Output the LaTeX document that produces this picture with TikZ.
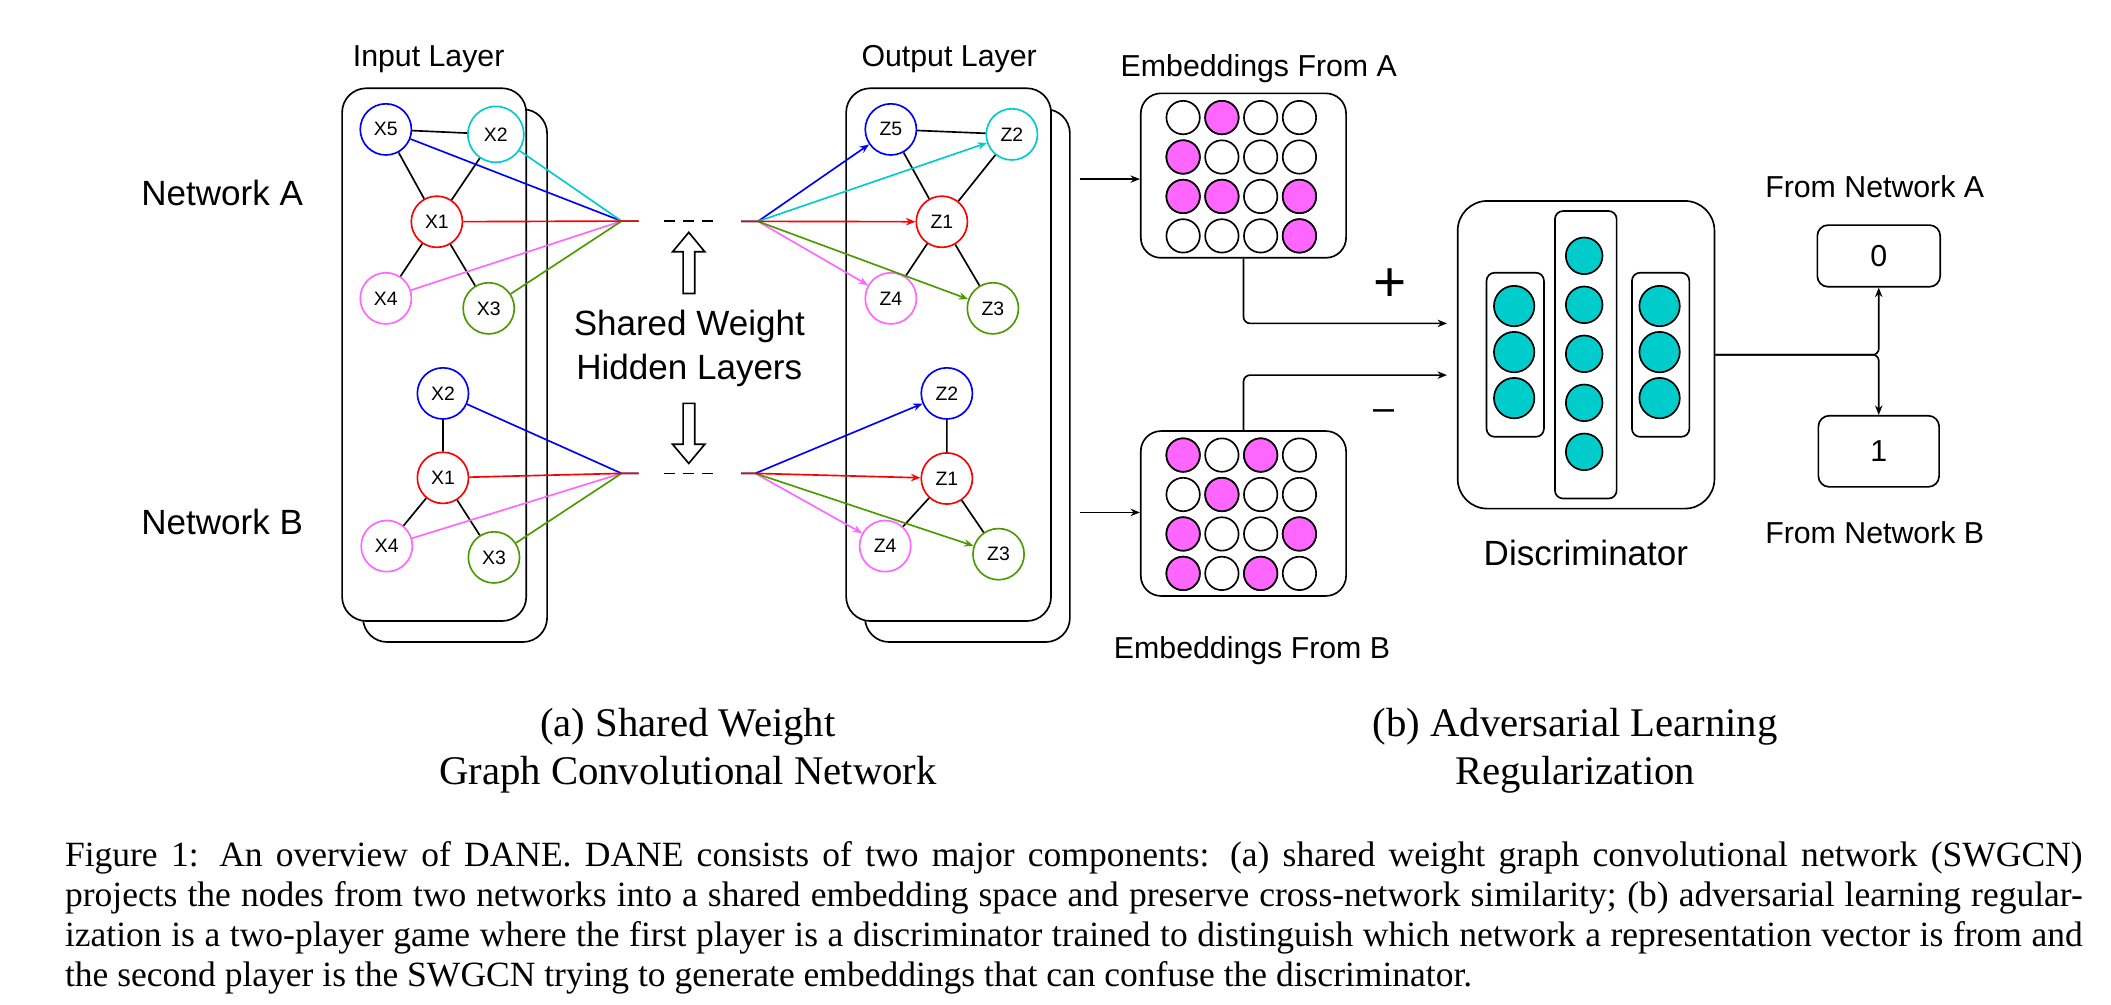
\documentclass[tikz,border=0pt]{standalone}
\usepackage{fontspec}
\setmainfont{Liberation Serif}
\setsansfont{Liberation Sans}
\usetikzlibrary{arrows.meta}

\definecolor{nblue}{HTML}{0000FF}
\definecolor{ncyan}{HTML}{00CCCC}
\definecolor{nred}{HTML}{FF0000}
\definecolor{nviolet}{HTML}{FF66FF}
\definecolor{ngreen}{HTML}{4D9900}
\definecolor{epink}{HTML}{FF66FF}
\definecolor{dteal}{HTML}{00CCCC}

\begin{document}
\begin{tikzpicture}[x=0.01cm,y=-0.01cm,line width=0.35pt,font=\sffamily,
    gnode/.style={circle,draw,fill=white,minimum size=3.8mm,inner sep=0pt,
      font=\sffamily\fontsize{4.1}{5}\selectfont},
    layer/.style={draw,fill=white,rounded corners=1.8mm,minimum width=1.367cm,minimum height=3.955cm},
    roundbox/.style={draw,fill=white,rounded corners=#1,inner sep=0pt},
    lbl/.style={font=\sffamily\fontsize{6.4}{7.5}\selectfont},
    big/.style={font=\sffamily\fontsize{7.4}{9.2}\selectfont},
    tip/.style={-{Stealth[length=0.7mm,width=0.55mm]}}]
  \useasboundingbox (0,0) rectangle (1568,745.8);

  % input and output layers (two stacked sheets)
  \node[layer] (inback) at (338,279) {};
  \node[layer] (infront) at (322.5,263.4) {};
  \node[layer,minimum width=1.521cm] (outback) at (718.6,279) {};
  \node[layer,minimum width=1.521cm] (outfront) at (704.6,263.4) {};
  \node[lbl] (inlbl) at (318.4,44.1) {Input Layer};
  \node[lbl] (outlbl) at (705,44) {Output Layer};
  \node[big] (neta) at (165,143.6) {Network A};
  \node[big] (netb) at (165,387.6) {Network B};

  % network A, input side
  \node[gnode,draw=nblue] (xa5) at (286.6,96.1) {X5};
  \node[gnode,draw=ncyan,minimum size=4.15mm] (xa2) at (368.3,99.8) {X2};
  \node[gnode,draw=nred] (xa1) at (324.5,164.7) {X1};
  \node[gnode,draw=nviolet] (xa4) at (286.6,221.6) {X4};
  \node[gnode,draw=ngreen] (xa3) at (363,229) {X3};
  \draw (xa5) -- (xa2) (xa5) -- (xa1) (xa2) -- (xa1) (xa1) -- (xa4) (xa1) -- (xa3);
  % network B, input side
  \node[gnode,draw=nblue] (xb2) at (329,292.2) {X2};
  \node[gnode,draw=nred] (xb1) at (329,354.9) {X1};
  \node[gnode,draw=nviolet] (xb4) at (287.3,405.6) {X4};
  \node[gnode,draw=ngreen] (xb3) at (366.9,414) {X3};
  \draw (xb2) -- (xb1) (xb1) -- (xb4) (xb1) -- (xb3);

  % network A, output side
  \node[gnode,draw=nblue] (za5) at (661.7,96.1) {Z5};
  \node[gnode,draw=ncyan] (za2) at (751.6,99.8) {Z2};
  \node[gnode,draw=nred] (za1) at (699.6,164.7) {Z1};
  \node[gnode,draw=nviolet] (za4) at (661.7,221.6) {Z4};
  \node[gnode,draw=ngreen] (za3) at (737.5,229) {Z3};
  \draw (za5) -- (za2) (za5) -- (za1) (za2) -- (za1) (za1) -- (za4) (za1) -- (za3);
  % network B, output side
  \node[gnode,draw=nblue] (zb2) at (703.3,292.2) {Z2};
  \node[gnode,draw=nred] (zb1) at (703.3,355.4) {Z1};
  \node[gnode,draw=nviolet] (zb4) at (657.5,405.6) {Z4};
  \node[gnode,draw=ngreen] (zb3) at (741.7,411.6) {Z3};
  \draw (zb2) -- (zb1) (zb1) -- (zb4) (zb1) -- (zb3);

  % shared weight hidden layers
  \coordinate (ca) at (461.7,164.2); \coordinate (ea) at (474.4,164.2);
  \coordinate (sa) at (550.5,164.4); \coordinate (ta) at (563,164.4);
  \coordinate (cb) at (461.7,351.6); \coordinate (eb) at (474.4,351.6);
  \coordinate (sb) at (550.5,351.6); \coordinate (tb) at (561,351.6);
  \foreach \n/\c in {xa5/nblue,xa2/ncyan,xa4/nviolet,xa3/ngreen,xa1/nred}
      \draw[color=\c] (\n) -- (ca) -- (ea);
  \foreach \n/\c in {xb2/nblue,xb4/nviolet,xb3/ngreen,xb1/nred}
      \draw[color=\c] (\n) -- (cb) -- (eb);
  \foreach \n/\c in {za5/nblue,za2/ncyan,za4/nviolet,za3/ngreen,za1/nred}
      \draw[tip,color=\c] (sa) -- (ta) -- (\n);
  \foreach \n/\c in {zb2/nblue,zb4/nviolet,zb3/ngreen,zb1/nred}
      \draw[tip,color=\c] (sb) -- (tb) -- (\n);
  \draw[dash pattern=on 0.78mm off 0.62mm] (493.5,164.2) -- (529.3,164.2);
  \draw[dash pattern=on 0.78mm off 0.62mm] (493.5,351.6) -- (529.3,351.6);
  \draw[fill=white] (507.4,218) -- (507.4,187) -- (499.6,187) -- (511.6,172.6)
      -- (523.5,187) -- (516,187) -- (516,218) -- cycle;
  \draw[fill=white] (507.4,299.6) -- (507.4,330) -- (499.6,330) -- (511.6,344.2)
      -- (523.5,330) -- (516,330) -- (516,299.6) -- cycle;
  \node[big,align=center] (shared) at (512,258.8) {Shared Weight\\Hidden Layers};

  % embeddings
  \node[roundbox=1.5mm,minimum width=1.524cm,minimum height=1.221cm] (emba) at (923.6,130.4) {};
  \node[roundbox=1.5mm,minimum width=1.524cm,minimum height=1.224cm] (embb) at (923.6,381.4) {};
  \foreach \r in {1,...,4} {
    \foreach \c in {1,...,4} {
      \draw[fill=white] ({850+28.8*\c},{58+29.3*\r}) circle (1.24mm);
      \draw[fill=white] ({850+28.8*\c},{308.7+29.3*\r}) circle (1.24mm);
    }
  }
  \foreach \r/\c in {1/2,2/1,3/1,3/2,3/4,4/4}
      \filldraw[fill=epink] ({850+28.8*\c},{58+29.3*\r}) circle (1.24mm);
  \foreach \r/\c in {1/1,1/3,2/2,3/1,3/4,4/1,4/3}
      \filldraw[fill=epink] ({850+28.8*\c},{308.7+29.3*\r}) circle (1.24mm);
  \node[lbl] (embalbl) at (935,50.8) {Embeddings From A};
  \node[lbl] (embblbl) at (930,483) {Embeddings From B};
  \coordinate (oa) at (801.9,133);
  \coordinate (ob) at (801.9,380.6);
  \draw[tip] (oa) -- (oa -| emba.west);
  \draw[tip] (ob) -- (ob -| embb.west);

  % discriminator
  \node[roundbox=2.2mm,minimum width=1.906cm,minimum height=2.284cm] (disc) at (1178.1,263.5) {};
  \node[roundbox=0.6mm,minimum width=0.426cm,minimum height=1.218cm] (dleft) at (1125.5,263.5) {};
  \node[roundbox=0.6mm,minimum width=0.458cm,minimum height=2.134cm] (dmid) at (1177.9,263.5) {};
  \node[roundbox=0.6mm,minimum width=0.426cm,minimum height=1.218cm] (dright) at (1233.5,263.5) {};
  \foreach \k in {0,1,2} {
    \filldraw[fill=dteal] (1124.7,{227.3+34.2*\k}) circle (1.5mm);
    \filldraw[fill=dteal] (1232.7,{227.3+34.2*\k}) circle (1.5mm);
  }
  \foreach \k in {0,...,4}
      \filldraw[fill=dteal] (1176.7,{190+36.4*\k}) circle (1.36mm);
  \node[big] (disclbl) at (1178,411) {Discriminator};
  \coordinate (da) at (1074.8,240.2);
  \coordinate (db) at (1074.8,278.6);
  \draw[tip,rounded corners=0.5mm] (emba.south) |- (da);
  \draw[tip,rounded corners=0.5mm] (embb.north) |- (db);
  \node[font=\sffamily\fontsize{12}{12}\selectfont] (plus) at (1032.2,211.7) {+};
  \node[font=\sffamily\fontsize{8}{8}\selectfont] (minus) at (1027.7,308.3) {–};

  % outputs
  \node[roundbox=0.8mm,minimum width=0.912cm,minimum height=0.458cm,lbl] (outa) at (1395.5,190.1) {0};
  \node[roundbox=0.8mm,minimum width=0.896cm,minimum height=0.528cm,lbl] (outb) at (1395.5,335.2) {1};
  \node[lbl] (fromalbl) at (1392.5,138.7) {From Network A};
  \node[lbl] (fromblbl) at (1392.5,395.7) {From Network B};
  \draw[tip,rounded corners=0.45mm] (disc.east) -| (outa.south);
  \draw[tip,rounded corners=0.45mm] (disc.east) -| (outb.north);

  % captions
  \node[font=\rmfamily\fontsize{8.6}{10.2}\selectfont,align=center,anchor=north,inner sep=0pt]
      (capa) at (511,525.5) {(a) Shared Weight\\Graph Convolutional Network};
  \node[font=\rmfamily\fontsize{8.6}{10.2}\selectfont,align=center,anchor=north,inner sep=0pt]
      (capb) at (1170,525.5) {(b) Adversarial Learning\\Regularization};
  \node[font=\rmfamily\fontsize{7.5}{8.46}\selectfont,align=left,anchor=north west,inner sep=0pt]
      (caption) at (47.7,624.5) {%
    \makebox[14.978cm][s]{Figure 1: An overview of DANE. DANE consists of two major components: (a) shared weight graph convolutional network (SWGCN)}\\
    \makebox[14.978cm][s]{projects the nodes from two networks into a shared embedding space and preserve cross-network similarity; (b) adversarial learning regular-}\\
    \makebox[14.978cm][s]{ization is a two-player game where the first player is a discriminator trained to distinguish which network a representation vector is from and}\\
    the second player is the SWGCN trying to generate embeddings that can confuse the discriminator.};
\end{tikzpicture}
\end{document}
